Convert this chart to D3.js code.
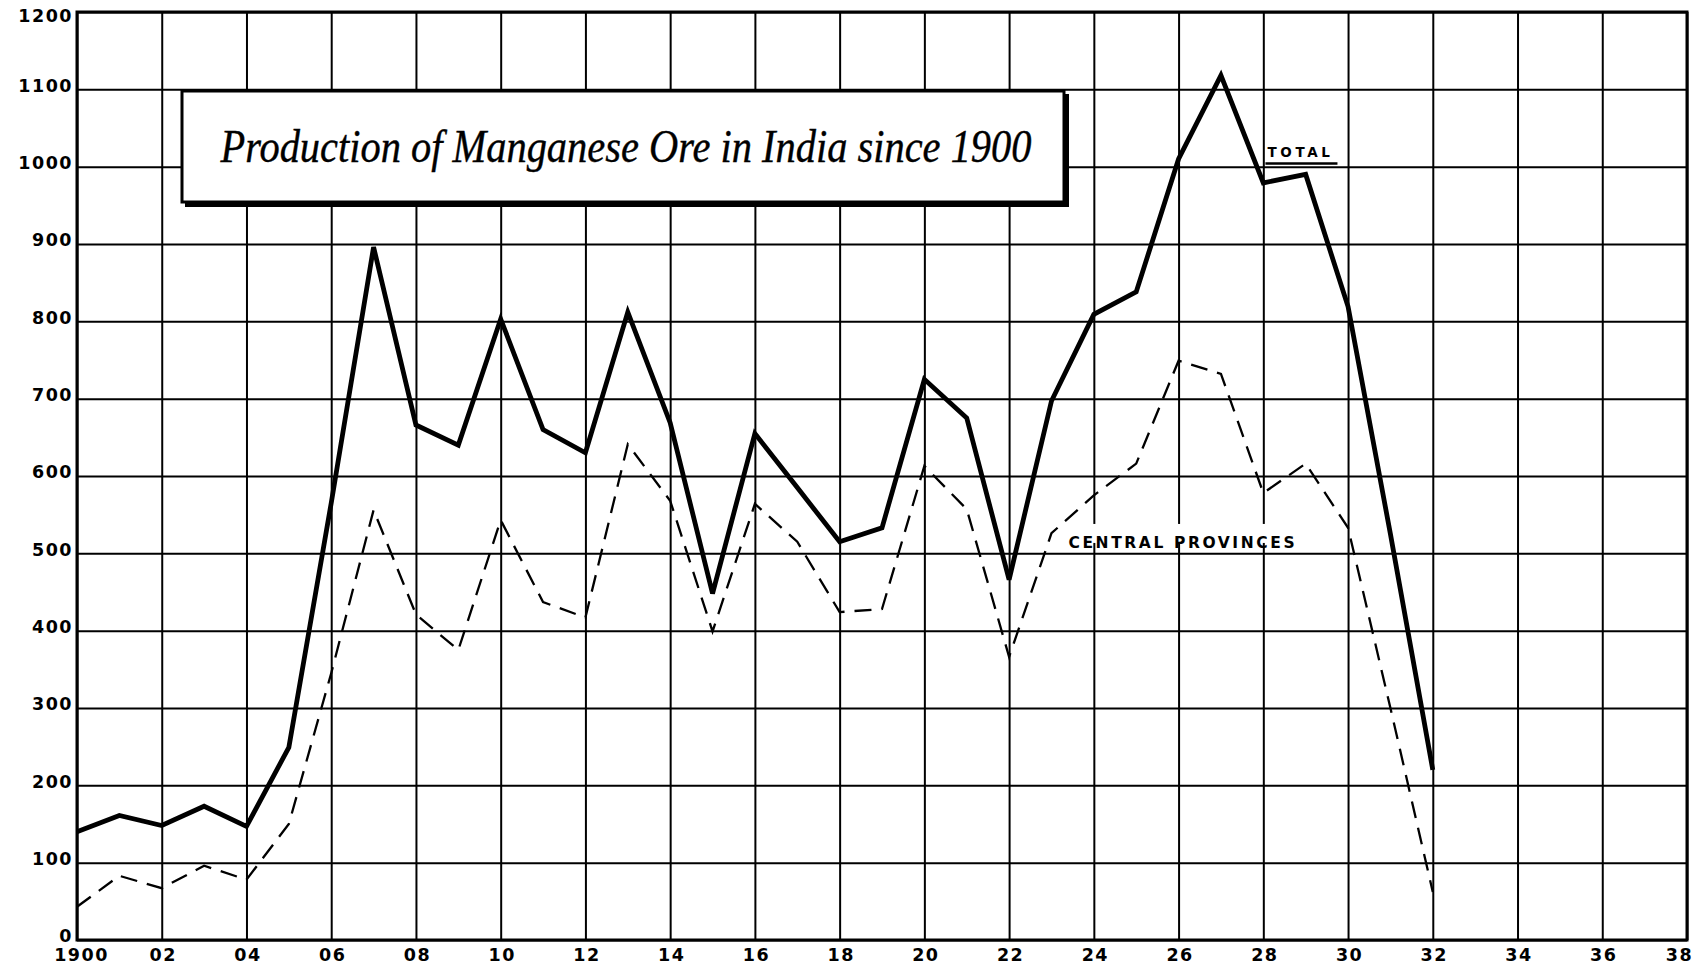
<!DOCTYPE html>
<html>
<head>
<meta charset="utf-8">
<script src="https://cdn.jsdelivr.net/npm/d3@7"></script>
<style>
  html, body { margin: 0; padding: 0; background: #fff; }
  svg { display: block; }
</style>
</head>
<body>
<div id="chart"></div>
<script>
// Years shown on the chart (one point per year)
const years = [1900, 1901, 1902, 1903, 1904, 1905, 1906, 1907, 1908, 1909,
               1910, 1911, 1912, 1913, 1914, 1915, 1916, 1917, 1918, 1919,
               1920, 1921, 1922, 1923, 1924, 1925, 1926, 1927, 1928, 1929,
               1930, 1931, 1932];

// Total production (thousand tons)
const total = [140, 161, 148, 173, 147, 249, 565, 896, 666, 640,
               803, 660, 630, 812, 669, 448, 655, 585, 515, 533,
               725, 675, 466, 697, 809, 838, 1010, 1118, 979, 990,
               819, 525, 220];

// Central Provinces (thousand tons)
const central = [43, 83, 67, 96, 78, 150, 345, 556, 421, 375,
                 543, 437, 417, 641, 568, 399, 564, 515, 424, 428,
                 613, 557, 366, 526, 575, 616, 749, 732, 578, 616,
                 533, 300, 62];

// Axis ticks
const xTicks = [1900, 1902, 1904, 1906, 1908, 1910, 1912, 1914, 1916, 1918,
                1920, 1922, 1924, 1926, 1928, 1930, 1932, 1934, 1936, 1938];
const yTicks = [0, 100, 200, 300, 400, 500, 600, 700, 800, 900, 1000, 1100, 1200];

const width = 1699, height = 969;
const plotLeft = 77, plotRight = 1687, plotTop = 12, plotBottom = 940;

const svg = d3.select("#chart").append("svg")
    .attr("width", width)
    .attr("height", height);

const x = d3.scaleLinear().domain([1900, 1938]).range([plotLeft, plotRight]);
const y = d3.scaleLinear().domain([0, 1200]).range([plotBottom, plotTop]);

const labelFont = "'DejaVu Sans', sans-serif";

// grid + tick labels via axes
const xAxis = svg.append("g")
    .attr("transform", `translate(0,${plotBottom})`)
    .call(d3.axisBottom(x)
        .tickValues(xTicks)
        .tickSizeInner(-(plotBottom - plotTop))
        .tickSizeOuter(0)
        .tickPadding(7)
        .tickFormat(d => d === 1900 ? "1900" : String(d % 100).padStart(2, "0")));

const yAxis = svg.append("g")
    .attr("transform", `translate(${plotLeft},0)`)
    .call(d3.axisLeft(y)
        .tickValues(yTicks)
        .tickSizeInner(-(plotRight - plotLeft))
        .tickSizeOuter(0)
        .tickPadding(6)
        .tickFormat(d => String(d)));

[xAxis, yAxis].forEach(a => {
    a.select(".domain").remove();
    a.selectAll(".tick line")
        .attr("stroke", "#000")
        .attr("stroke-width", 2);
    a.selectAll(".tick text")
        .attr("fill", "#000")
        .style("font-family", labelFont)
        .style("font-weight", "bold")
        .style("font-size", "17.5px")
        .style("letter-spacing", "1.5px");
});
yAxis.selectAll(".tick text")
    .attr("dy", d => d === 1200 ? "0.55em" : "0.1em")
    .attr("x", -4);
xAxis.selectAll(".tick text")
    .attr("dy", "0.78em")
    .attr("dx", d => d === 1938 ? "-8px" : d === 1900 ? "4px" : "1px");

// frame
svg.append("rect")
    .attr("x", plotLeft)
    .attr("y", plotTop)
    .attr("width", plotRight - plotLeft)
    .attr("height", plotBottom - plotTop)
    .attr("fill", "none")
    .attr("stroke", "#000")
    .attr("stroke-width", 3);

// series
const line = d3.line()
    .x((d, i) => x(years[i]))
    .y(d => y(d));

svg.append("path")
    .datum(central)
    .attr("d", line)
    .attr("fill", "none")
    .attr("stroke", "#000")
    .attr("stroke-width", 2.3)
    .attr("stroke-dasharray", "17,10");

svg.append("path")
    .datum(total)
    .attr("d", line)
    .attr("fill", "none")
    .attr("stroke", "#000")
    .attr("stroke-width", 4.8)
    .attr("stroke-linejoin", "miter");

// series labels
svg.append("rect")
    .attr("x", x(1923.25))
    .attr("y", y(538))
    .attr("width", 244)
    .attr("height", 19)
    .attr("fill", "#fff");

svg.append("text")
    .attr("x", x(1923.4))
    .attr("y", y(507))
    .text("CENTRAL PROVINCES")
    .attr("fill", "#000")
    .style("font-family", labelFont)
    .style("font-weight", "bold")
    .style("font-size", "15.5px")
    .style("letter-spacing", "2.6px");

svg.append("text")
    .attr("x", x(1928.1))
    .attr("y", y(1012))
    .text("TOTAL")
    .attr("fill", "#000")
    .style("font-family", labelFont)
    .style("font-weight", "bold")
    .style("font-size", "13.5px")
    .style("letter-spacing", "3.6px");

svg.append("line")
    .attr("x1", x(1928.05)).attr("x2", x(1929.75))
    .attr("y1", y(1004)).attr("y2", y(1004))
    .attr("stroke", "#000")
    .attr("stroke-width", 2.5);

// title box with heavy right/bottom edge
const box = { x: 182, y: 91, w: 882, h: 111 };
svg.append("rect")
    .attr("x", box.x + 3)
    .attr("y", box.y + 3)
    .attr("width", box.w + 2)
    .attr("height", box.h + 2)
    .attr("fill", "#000");
svg.append("rect")
    .attr("x", box.x)
    .attr("y", box.y)
    .attr("width", box.w)
    .attr("height", box.h)
    .attr("fill", "#fff")
    .attr("stroke", "#000")
    .attr("stroke-width", 3);

svg.append("text")
    .attr("x", box.x + box.w / 2 + 3)
    .attr("y", 162)
    .attr("text-anchor", "middle")
    .attr("textLength", 811)
    .attr("lengthAdjust", "spacingAndGlyphs")
    .text("Production of Manganese Ore in India since 1900")
    .attr("fill", "#000")
    .attr("stroke", "#000")
    .attr("stroke-width", 0.4)
    .style("font-family", "'Liberation Serif', serif")
    .style("font-style", "italic")
    .style("font-size", "46px");
</script>
</body>
</html>
